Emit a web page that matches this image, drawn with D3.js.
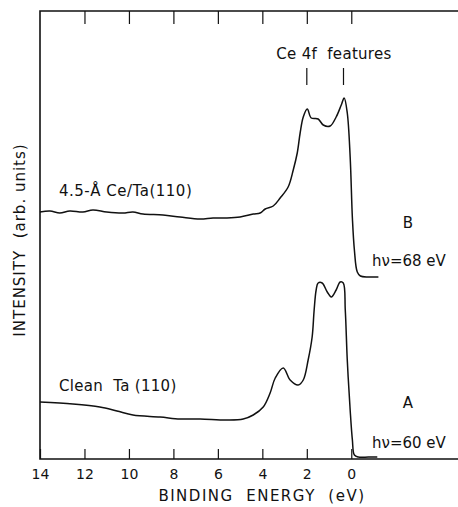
<!DOCTYPE html>
<html>
<head>
<meta charset="utf-8">
<script src="https://cdn.jsdelivr.net/npm/d3@7"></script>
<style>
  body { margin: 0; background: #fff; }
  svg text { font-family: "DejaVu Sans", sans-serif; fill: #111; white-space: pre; }
</style>
</head>
<body>
<div id="chart"></div>
<script>
// binding energy (eV) and intensity (arb. units)
var ceEnergy = [14.0, 13.55, 13.11, 12.66, 12.07, 11.62, 11.0, 10.27, 9.82, 9.37, 8.47, 7.7, 6.8, 6.22, 5.59, 5.0, 4.41, 4.1, 3.87, 3.51, 3.2, 2.84, 2.61, 2.43, 2.3, 2.16, 1.98, 1.8, 1.49, 1.26, 0.95, 0.68, 0.45, 0.32, 0.18, 0.05, -0.05, -0.14, -0.27, -0.41, -0.77, -1.22];
var ceIntensity = [247, 248, 246, 248, 247, 249, 247, 246, 247, 245, 244, 242, 240, 241, 241, 242, 245, 246, 250, 253, 261, 272, 289, 306, 326, 342, 350, 341, 340, 334, 333, 342, 354, 361, 346, 302, 241, 209, 187, 183, 182, 182];

var taEnergy = [14.0, 12.52, 11.31, 10.54, 9.82, 8.6, 7.7, 6.8, 5.59, 4.86, 4.41, 3.96, 3.65, 3.42, 3.06, 2.75, 2.39, 2.16, 1.94, 1.76, 1.67, 1.58, 1.49, 1.31, 1.08, 0.9, 0.68, 0.5, 0.36, 0.27, 0.18, 0.05, -0.05, -0.14, -0.32, -0.77, -1.17];
var taIntensity = [57, 55, 52, 48, 44, 42, 40, 40, 39, 40, 44, 52, 66, 81, 91, 79, 74, 79, 99, 122, 149, 169, 176, 176, 167, 162, 169, 177, 176, 149, 99, 49, 19, 4, 2, 2, 2];

var tickValues = [14, 12, 10, 8, 6, 4, 2, 0];
var featureEnergies = [2.0, 0.35];

var width = 458, height = 507;
var margin = {t: 11, l: 40, b: 48};

var svg = d3.select('#chart').append('svg')
  .attr('width', width)
  .attr('height', height);

var x = d3.scaleLinear().domain([14, -4.8]).range([margin.l, width]);
var y = d3.scaleLinear().domain([0, 448]).range([height - margin.b, margin.t]);

var bottom = height - margin.b;

// frame: left, top and bottom lines
svg.append('path')
  .attr('d', 'M' + width + ',' + margin.t + 'H' + margin.l + 'V' + bottom + 'H' + width)
  .attr('fill', 'none')
  .attr('stroke', '#111')
  .attr('stroke-width', 1.6);

// bottom axis ticks + labels
var xAxis = d3.axisBottom(x).tickValues(tickValues).tickSize(-10).tickPadding(10).tickFormat(d3.format('d'));
var gx = svg.append('g')
  .attr('transform', 'translate(0,' + bottom + ')')
  .call(xAxis);
gx.select('.domain').remove();
gx.selectAll('line').attr('stroke', '#111').attr('stroke-width', 1.2);
gx.selectAll('text').attr('font-size', 14).attr('fill', '#111').style('font-family', '"DejaVu Sans", sans-serif');

// top ticks
var xTop = d3.axisTop(x).tickValues(tickValues.slice(1)).tickSize(-13).tickFormat('');
var gt = svg.append('g')
  .attr('transform', 'translate(0,' + margin.t + ')')
  .call(xTop);
gt.select('.domain').remove();
gt.selectAll('line').attr('stroke', '#111').attr('stroke-width', 1.2);

// spectra
var line = d3.line()
  .x(function(d){ return x(d[0]); })
  .y(function(d){ return y(d[1]); })
  .curve(d3.curveCatmullRom.alpha(0.5));

var spectra = [d3.zip(ceEnergy, ceIntensity), d3.zip(taEnergy, taIntensity)];
svg.append('g').selectAll('path')
  .data(spectra)
  .enter()
  .append('path')
  .attr('d', line)
  .attr('fill', 'none')
  .attr('stroke', '#111')
  .attr('stroke-width', 1.5);

// Ce 4f feature markers
svg.append('g').selectAll('line')
  .data(featureEnergies)
  .enter()
  .append('line')
  .attr('x1', function(d){ return x(d); })
  .attr('x2', function(d){ return x(d); })
  .attr('y1', 68)
  .attr('y2', 85)
  .attr('stroke', '#111')
  .attr('stroke-width', 1.2);

function label(txt, px, py, size, anchor, spacing){
  svg.append('text')
    .attr('x', px)
    .attr('y', py)
    .attr('font-size', size)
    .attr('text-anchor', anchor || 'start')
    .attr('letter-spacing', spacing || 0)
    .text(txt);
}

label('Ce 4f  features', 334, 59, 15, 'middle', 0.3);
label('4.5-Å Ce/Ta(110)', 59, 196, 15, 'start', 0.5);
label('Clean  Ta (110)', 59, 391, 15, 'start', 0.3);
label('B', 408, 228, 15, 'middle');
label('hν=68 eV', 372, 266, 15, 'start');
label('A', 408, 408, 15, 'middle');
label('hν=60 eV', 372, 448, 15, 'start');

// axis titles
label('BINDING  ENERGY  (eV)', 262, 501, 15, 'middle', 1.5);
svg.append('text')
  .attr('transform', 'translate(25,240) rotate(-90)')
  .attr('font-size', 15)
  .attr('text-anchor', 'middle')
  .attr('letter-spacing', 1)
  .text('INTENSITY  (arb. units)');
</script>
</body>
</html>
